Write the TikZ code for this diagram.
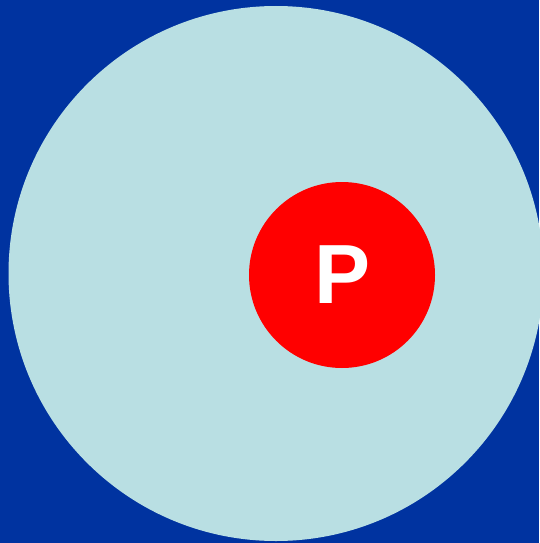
\documentclass[tikz,border=0pt]{standalone}
\usepackage{fontspec}
\setmainfont{Liberation Sans}
\definecolor{deepblue}{RGB}{0,51,160}
\definecolor{paleblue}{RGB}{185,223,227}
\definecolor{pinred}{RGB}{255,0,0}

\begin{document}
\begin{tikzpicture}[x=1pt, y=-1pt]
	\fill[deepblue] (0,0) rectangle (539,543);
	\useasboundingbox (0,0) rectangle (539,543);
	\fill[paleblue] (276,273.5) circle (267.5);
	\node[circle, fill=pinred, minimum size=186pt, inner sep=0pt] (pin) at (342,275) {};
	\node[white, font=\fontsize{84}{84}\selectfont\bfseries] (label) at ([xshift=1pt]pin.center) {P};
\end{tikzpicture}
\end{document}
